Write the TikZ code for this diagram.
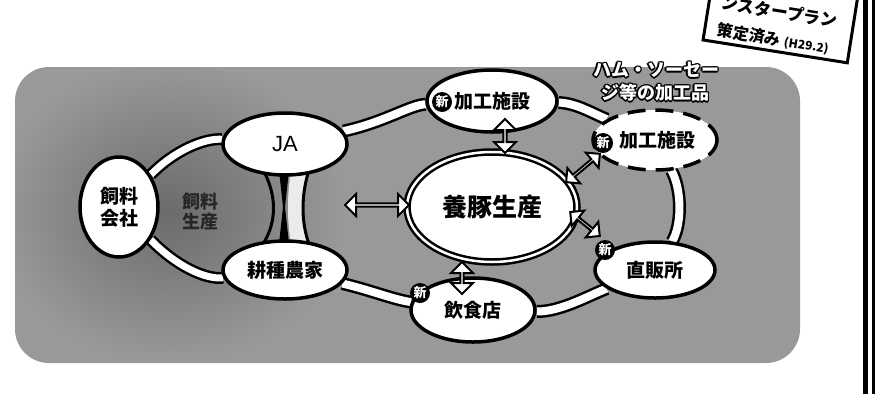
\documentclass[tikz,border=0pt]{standalone}
\usepackage{fontspec}
\setmainfont{Noto Sans CJK JP}
\newfontfamily\latf{Liberation Sans}
\usetikzlibrary{shapes.geometric,shapes.arrows,calc}
\pgfdeclarelayer{back}
\pgfdeclarelayer{mid}
\pgfsetlayers{back,mid,main}
\begin{document}
\begin{tikzpicture}[x=1pt,y=-1pt,
  bubble/.style={ellipse, draw=black, line width=3.5pt, fill=white, inner sep=0pt, align=center,
    font=\bfseries\fontsize{19}{22}\selectfont},
  band/.style={draw=black, line width=2.5pt, double=white, double distance=8pt},
  lband/.style={draw=black, line width=2.5pt, double=white, double distance=7pt},
  badge/.style={circle, fill=black, inner sep=0pt, minimum size=20pt, text=white,
    font=\bfseries\fontsize{13}{13}\selectfont},
  darrow/.style={double arrow, draw=black, line width=2pt, fill=white, inner sep=0pt,
    double arrow head extend=6pt, double arrow head indent=0pt, minimum width=22pt},
  halo/.style={font=\bfseries\fontsize{18}{18}\selectfont}
]
\useasboundingbox (0,0) rectangle (875,394);
\clip (0,0) rectangle (875,394);

% background
\begin{pgfonlayer}{back}
\fill[black!40, rounded corners=34pt] (15,67) rectangle (800,363);
\begin{scope}
\clip[rounded corners=34pt] (15,67) rectangle (800,363);
\shade[inner color=black!58, outer color=black!40] (170,212) ellipse [x radius=175, y radius=150];
\end{scope}
\end{pgfonlayer}

% nodes
\node[bubble, minimum width=78pt, minimum height=100pt] (shiryo) at (119,207) {飼料\\会社};
\node[bubble, minimum width=124pt, minimum height=62pt, font=\latf\fontsize{22}{22}\selectfont] (ja) at (285,144) {JA};
\node[bubble, minimum width=124pt, minimum height=58pt] (kou) at (285,270) {耕種農家};
\node[bubble, double=white, double distance=2.5pt, line width=2.5pt, minimum width=170pt, minimum height=110pt,
  font=\bfseries\fontsize{25}{25}\selectfont] (yoton) at (492,207) {養豚生産};
\node[bubble, minimum width=130pt, minimum height=62pt] (kakou) at (492,101) {加工施設};
\node[bubble, dash pattern=on 18pt off 10pt, minimum width=124pt, minimum height=60pt] (kakou2) at (655,140) {\hspace*{4pt}加工施設};
\node[bubble, minimum width=120pt, minimum height=56pt] (choku) at (655,270) {直販所};
\node[bubble, minimum width=124pt, minimum height=64pt] (inshoku) at (473,310) {飲食店};

% bands
\begin{pgfonlayer}{mid}
\draw[band] (ja) .. controls (385,122) and (410,105) .. (kakou);
\draw[band] (kakou) .. controls (575,103) and (590,112) .. (kakou2);
\draw[band] (kakou2) .. controls (682,190) and (682,225) .. (choku);
\draw[band] (choku) .. controls (590,295) and (560,312) .. (inshoku);
\draw[band] (inshoku) .. controls (395,300) and (370,290) .. (kou);
\draw[lband] (shiryo) .. controls (175,150) and (205,138) .. (ja);
\draw[lband] (shiryo) .. controls (175,265) and (205,280) .. (kou);
% hourglass between JA and 耕種農家
\fill[black!8] (291,170) .. controls (287,195) and (287,222) .. (291,244) -- (309,244)
  .. controls (301,222) and (301,195) .. (309,170) -- cycle;
\fill[black] (279,170) -- (289,170) -- (285,207) -- (289,244) -- (279,244) -- (283,207) -- cycle;
\draw[black, line width=3pt] (263,170) .. controls (277,195) and (277,222) .. (263,244);
\draw[black, line width=3pt] (309,170) .. controls (301,195) and (301,222) .. (309,244);
\node[font=\bfseries\fontsize{18}{20}\selectfont, text=black!85, align=center] (shiryosei) at (200,212) {飼料\\生産};
\end{pgfonlayer}

% badges
\node[badge] (b1) at (442,102) {新};
\node[badge] (b2) at (603,143) {新};
\node[badge] (b3) at (605,250) {新};
\node[badge] (b4) at (420,293) {新};

% arrows
\node[darrow, minimum height=64pt] (a1) at (377,205) {};
\node[darrow, minimum height=34pt, rotate=90] (a2) at (505,136) {};
\node[darrow, minimum height=32pt, rotate=90] (a3) at (462,278) {};
\node[darrow, minimum height=44pt, rotate=40, minimum width=20pt] (a4) at (583,168) {};
\node[darrow, minimum height=38pt, rotate=-39, minimum width=20pt] (a5) at (585,224) {};

% halo text
\foreach \dx/\dy in {-1.3/0,1.3/0,0/-1.3,0/1.3,-1/-1,1/1,-1/1,1/-1} {
  \node[halo, text=black] at (656+\dx,70+\dy) {ハム・ソーセー};
  \node[halo, text=black] at (655+\dx,93+\dy) {ジ等の加工品};
}
\node[halo, text=white] (t1) at (656,70) {ハム・ソーセー};
\node[halo, text=white] (t2) at (655,93) {ジ等の加工品};

% sign
\begin{scope}[shift={(783,2)}, rotate=-9, transform shape]
\node[draw=black, line width=3pt, fill=white, minimum width=146pt, minimum height=100pt, inner sep=0pt] (sign) at (0,0) {};
\node[font=\bfseries\fontsize{17}{17}\selectfont] (s1) at (-2,10) {ンスタープラン};
\node[font=\bfseries\fontsize{16}{16}\selectfont] (s2) at (-4,38) {策定済み {\fontsize{12}{12}\selectfont (H29.2)}};
\end{scope}

% right page border
\fill[black] (863,0) rectangle (868,394);
\fill[black] (872,0) rectangle (875,394);
\end{tikzpicture}
\end{document}
